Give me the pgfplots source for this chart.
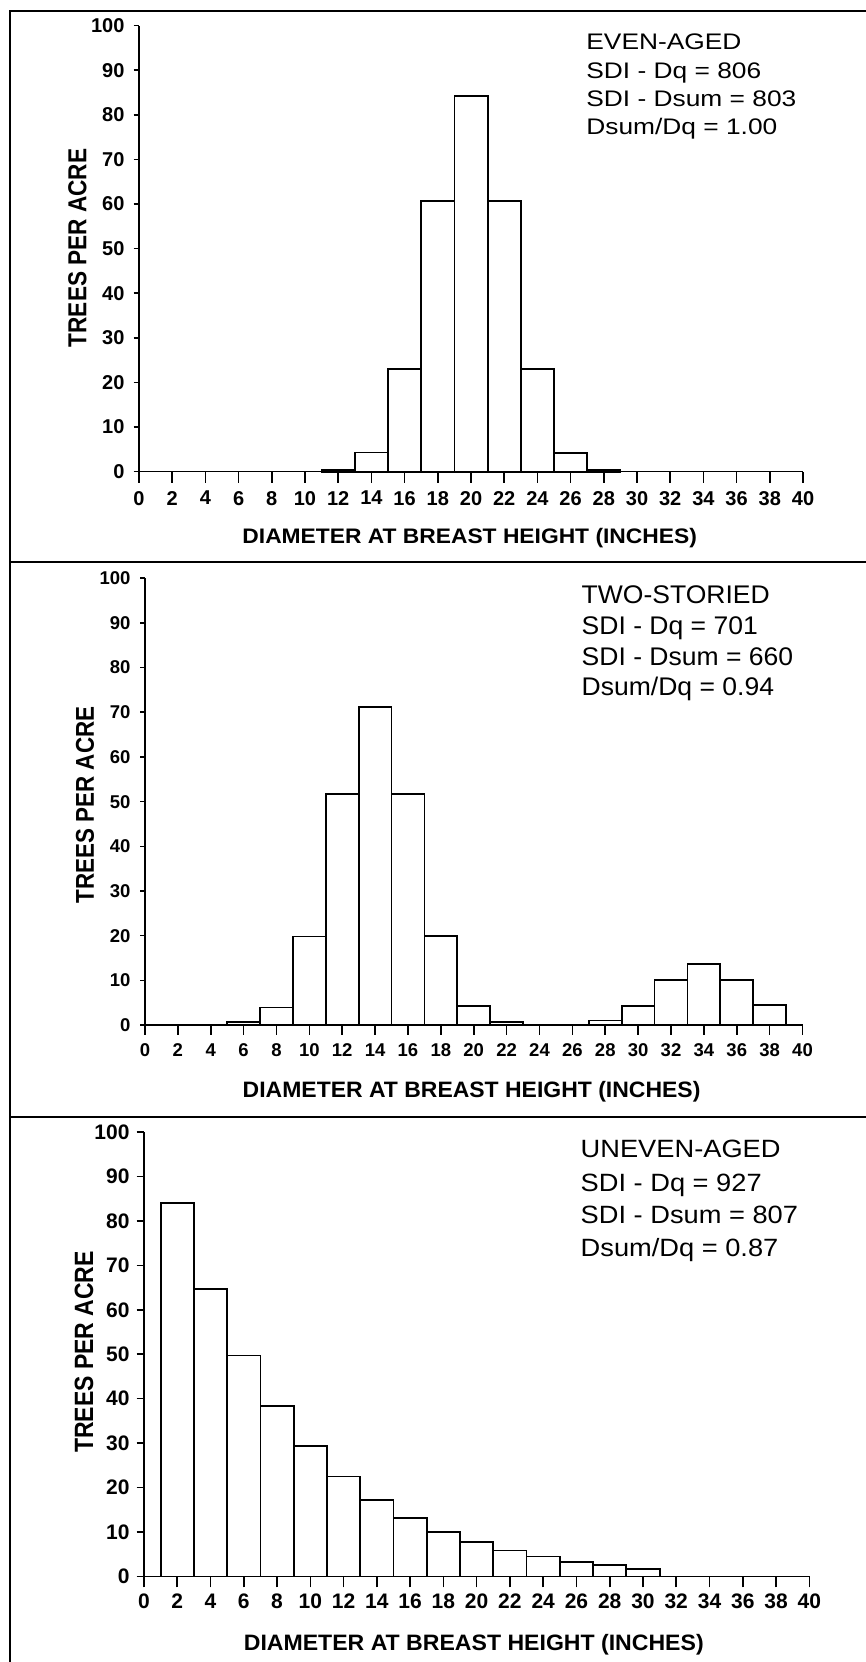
\documentclass[border=0pt]{standalone}
\usepackage{pgfplots}
\pgfplotsset{compat=1.18}
\usepackage{graphicx}
\usepackage{fontspec}
\setmainfont{Liberation Sans}

\pgfplotstableread{
x y
12 0.37
14 4.3
16 23.0
18 60.7
20 84.3
22 60.7
24 23.0
26 4.2
28 0.37
}\evenaged

\pgfplotstableread{
x y
6 0.6
8 3.9
10 19.8
12 51.7
14 71.2
16 51.7
18 19.9
20 4.3
22 0.6
28 1.0
30 4.3
32 10.0
34 13.6
36 10.0
38 4.4
}\twostoried

\pgfplotstableread{
x y
2 84.0
4 64.7
6 49.7
8 38.3
10 29.4
12 22.5
14 17.3
16 13.1
18 10.1
20 7.7
22 5.85
24 4.5
26 3.3
28 2.5
30 1.7
}\unevenaged

\pgfplotsset{
  treestyle/.style={
    scale only axis,
    anchor=south west,
    xmin=0, xmax=40, ymin=0, ymax=100,
    axis x line*=bottom, axis y line*=left,
    axis line style={line width=1.6pt, black, -},
    xtick={0,2,...,40}, ytick={0,10,...,100},
    tick align=outside,
    major tick length=11pt,
    tick style={line width=1.6pt, black},
    /pgf/number format/assume math mode=true,
    clip=false,
  },
  bars/.style={ybar, bar width=2, bar shift=0pt, draw=black, fill=white, line width=1.8pt},
}

\begin{document}
\begin{tikzpicture}
\useasboundingbox (0pt,0pt) rectangle (865pt,1662pt);

% ---------------- Panel 1 ----------------
\begin{axis}[treestyle, at={(139pt,1190.3pt)}, width=664pt, height=446pt,
  xtick style={/pgfplots/major tick length=11pt},
  ytick style={/pgfplots/major tick length=5.5pt},
  tick label style={font=\fontsize{20}{22}\selectfont\bfseries},
  xticklabel style={yshift=-5pt},
  xlabel={\scalebox{1.086}[1]{DIAMETER AT BREAST HEIGHT (INCHES)}},
  xlabel style={font=\fontsize{21}{24}\selectfont\bfseries, at={(axis description cs:0.498,-0.1485)}, anchor=center},
  ylabel={\scalebox{1}[1.15]{TREES PER ACRE}},
  ylabel style={font=\fontsize{22.6}{24}\selectfont\bfseries, at={(axis description cs:-0.0926,0.5016)}, anchor=center},
]
\addplot[bars] table[x=x,y=y] {\evenaged};
\end{axis}

% ---------------- Panel 2 ----------------
\begin{axis}[treestyle, at={(145pt,637pt)}, width=657.5pt, height=446.7pt,
  xtick style={/pgfplots/major tick length=10pt},
  ytick style={/pgfplots/major tick length=5pt},
  tick label style={font=\fontsize{18.5}{20}\selectfont\bfseries},
  xticklabel style={yshift=-4.5pt},
  xlabel={\scalebox{1.03}[1]{DIAMETER AT BREAST HEIGHT (INCHES)}},
  xlabel style={font=\fontsize{22.3}{24}\selectfont\bfseries, at={(axis description cs:0.4967,-0.1500)}, anchor=center},
  ylabel={\scalebox{1}[1.15]{TREES PER ACRE}},
  ylabel style={font=\fontsize{22.4}{24}\selectfont\bfseries, at={(axis description cs:-0.0913,0.4925)}, anchor=center},
]
\addplot[bars] table[x=x,y=y] {\twostoried};
\end{axis}

% ---------------- Panel 3 ----------------
\begin{axis}[treestyle, at={(144pt,85.5pt)}, width=665.3pt, height=444.5pt,
  xtick style={/pgfplots/major tick length=11pt},
  ytick style={/pgfplots/major tick length=7.3pt},
  tick label style={font=\fontsize{21}{23}\selectfont\bfseries},
  xticklabel style={yshift=-3pt},
  xlabel={\scalebox{1.035}[1]{DIAMETER AT BREAST HEIGHT (INCHES)}},
  xlabel style={font=\fontsize{22.3}{24}\selectfont\bfseries, at={(axis description cs:0.4957,-0.1541)}, anchor=center},
  ylabel={\scalebox{1}[1.15]{TREES PER ACRE}},
  ylabel style={font=\fontsize{23}{25}\selectfont\bfseries, at={(axis description cs:-0.0902,0.505)}, anchor=center},
]
\addplot[bars] table[x=x,y=y] {\unevenaged};
\end{axis}

% ---------------- Annotations ----------------
\begin{scope}[every node/.style={anchor=base west, inner sep=0pt}]
\node[font=\fontsize{22.5}{24}\selectfont] at (586.2pt,1612.7pt) {\scalebox{1.17}[1]{EVEN-AGED}};
\node[font=\fontsize{22.5}{24}\selectfont] at (586.2pt,1583.7pt) {\scalebox{1.17}[1]{SDI - Dq = 806}};
\node[font=\fontsize{22.5}{24}\selectfont] at (586.2pt,1555.3pt) {\scalebox{1.17}[1]{SDI - Dsum = 803}};
\node[font=\fontsize{22.5}{24}\selectfont] at (586.2pt,1527pt) {\scalebox{1.17}[1]{Dsum/Dq = 1.00}};

\node[font=\fontsize{25.5}{27}\selectfont] at (581.5pt,1058.7pt) {\scalebox{1.04}[1]{TWO-STORIED}};
\node[font=\fontsize{25.5}{27}\selectfont] at (581.5pt,1027pt) {\scalebox{1.04}[1]{SDI - Dq = 701}};
\node[font=\fontsize{25.5}{27}\selectfont] at (581.5pt,996.3pt) {\scalebox{1.04}[1]{SDI - Dsum = 660}};
\node[font=\fontsize{25.5}{27}\selectfont] at (581.5pt,966.3pt) {\scalebox{1.04}[1]{Dsum/Dq = 0.94}};

\node[font=\fontsize{25}{27}\selectfont] at (580.5pt,504.7pt) {\scalebox{1.09}[1]{UNEVEN-AGED}};
\node[font=\fontsize{25}{27}\selectfont] at (580.5pt,470.3pt) {\scalebox{1.09}[1]{SDI - Dq = 927}};
\node[font=\fontsize{25}{27}\selectfont] at (580.5pt,438.7pt) {\scalebox{1.09}[1]{SDI - Dsum = 807}};
\node[font=\fontsize{25}{27}\selectfont] at (580.5pt,405.3pt) {\scalebox{1.09}[1]{Dsum/Dq = 0.87}};
\end{scope}

% ---------------- Frame ----------------
\draw[line width=2pt] (10pt,-2pt) -- (10pt,1651pt) -- (870pt,1651pt);
\draw[line width=1.7pt] (10pt,1100pt) -- (870pt,1100pt);
\draw[line width=1.7pt] (10pt,545pt) -- (870pt,545pt);
\end{tikzpicture}
\end{document}
